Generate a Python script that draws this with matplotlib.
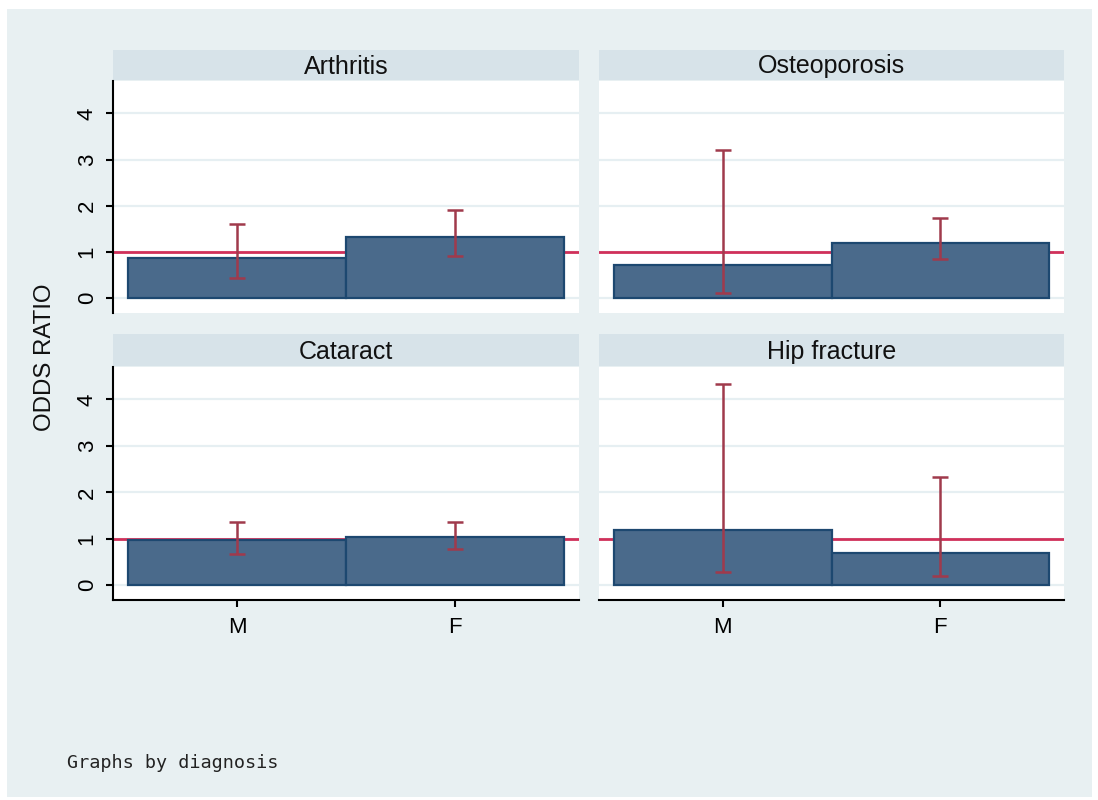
import numpy as np
import matplotlib as mpl
mpl.use('Agg')
import matplotlib.pyplot as plt
from matplotlib.patches import Rectangle

# data
diagnoses = ['Arthritis', 'Osteoporosis', 'Cataract', 'Hip fracture']
sexes = ['M', 'F']
odds_ratio = {
    'Arthritis':    [0.87, 1.32],
    'Osteoporosis': [0.72, 1.20],
    'Cataract':     [0.98, 1.03],
    'Hip fracture': [1.18, 0.69],
}
ci_low = {
    'Arthritis':    [0.43, 0.92],
    'Osteoporosis': [0.12, 0.85],
    'Cataract':     [0.68, 0.77],
    'Hip fracture': [0.29, 0.19],
}
ci_high = {
    'Arthritis':    [1.60, 1.90],
    'Osteoporosis': [3.21, 1.73],
    'Cataract':     [1.36, 1.36],
    'Hip fracture': [4.33, 2.34],
}
yticks = [0, 1, 2, 3, 4]

W, H = 1098, 800
plt.rcParams['font.family'] = ['Liberation Sans', 'DejaVu Sans']

bg = '#E8F0F2'
strip_col = '#D7E3E9'
grid_col = '#E6EFF2'
bar_col = '#4A6A8B'
bar_edge = '#1D4870'
ref_col = '#D0305A'
err_col = '#A03A4C'

fig = plt.figure(figsize=(W / 100, H / 100), dpi=100)
fig.patch.set_facecolor('white')
fig.patches.append(Rectangle((7 / W, 1 - 797 / H), 1085 / W, 788 / H,
                             transform=fig.transFigure, facecolor=bg,
                             edgecolor='none', zorder=-10))


def px_axes(x0, y0, x1, y1):
    # pixel box (top-left origin) -> figure axes
    return fig.add_axes([x0 / W, 1 - y1 / H, (x1 - x0) / W, (y1 - y0) / H])


# panel boxes: (plot left, plot top, plot right, plot bottom, strip top)
boxes = [
    (113, 81, 579, 313, 50),
    (599, 81, 1064, 313, 50),
    (113, 367, 579, 600, 334),
    (599, 367, 1064, 600, 334),
]

x = np.arange(1, len(sexes) + 1)

for i, name in enumerate(diagnoses):
    x0, y0, x1, y1, st = boxes[i]
    left = i % 2 == 0
    bottom = i >= 2

    # strip with title
    sax = px_axes(x0, st, x1, y0 - 1)
    sax.set_facecolor(strip_col)
    sax.set_xticks([])
    sax.set_yticks([])
    for s in sax.spines.values():
        s.set_visible(False)
    sax.text(0.5, 0.45, name, ha='center', va='center', fontsize=18,
             color='#111111', transform=sax.transAxes)

    ax = px_axes(x0, y0, x1, y1)
    ax.set_facecolor('white')
    ax.set_xlim(0.43, 2.57)
    ax.set_ylim(-0.32, 4.7)

    for t in yticks:
        ax.axhline(t, color=grid_col, lw=1.6, zorder=1)
    ax.axhline(1, color=ref_col, lw=2.0, zorder=2)

    ax.bar(x, odds_ratio[name], width=1.0, color=bar_col, edgecolor=bar_edge,
           linewidth=1.6, zorder=3)
    ax.errorbar(x, odds_ratio[name],
                yerr=[np.array(odds_ratio[name]) - np.array(ci_low[name]),
                      np.array(ci_high[name]) - np.array(odds_ratio[name])],
                fmt='none', ecolor=err_col, elinewidth=1.8, capsize=5.5,
                capthick=1.8, zorder=4)

    for s in ['top', 'right']:
        ax.spines[s].set_visible(False)
    ax.spines['left'].set_visible(left)
    ax.spines['bottom'].set_visible(bottom)
    ax.spines['left'].set_linewidth(1.5)
    ax.spines['bottom'].set_linewidth(1.5)

    if left:
        ax.set_yticks(yticks)
        ax.set_yticklabels([str(t) for t in yticks], rotation=90, va='center',
                           fontsize=16)
        ax.tick_params(axis='y', length=5, width=1.5, pad=6)
    else:
        ax.set_yticks([])
    if bottom:
        ax.set_xticks(x)
        ax.set_xticklabels(sexes, fontsize=16)
        ax.tick_params(axis='x', length=5, width=1.5, pad=7)
    else:
        ax.set_xticks([])

fig.text(45 / W, 1 - 357 / H, 'ODDS RATIO', rotation=90, ha='center',
         va='center', fontsize=17.3, color='#111111')
fig.text(67 / W, 1 - 763 / H, 'Graphs by diagnosis', ha='left', va='center',
         fontsize=13.3, family='DejaVu Sans Mono', color='#222222')

plt.savefig('out.png', dpi=100, facecolor=fig.get_facecolor())
plt.close()
